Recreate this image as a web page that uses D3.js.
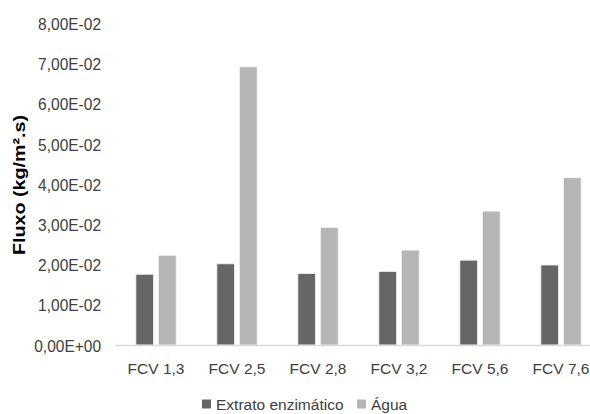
<!DOCTYPE html>
<html><head><meta charset="utf-8">
<script src="https://cdn.jsdelivr.net/npm/d3@7"></script>
<style>html,body{margin:0;padding:0;background:#fff;overflow:hidden}</style>
</head><body>
<svg id="c" width="590" height="414"></svg>
<script>
const categories = ["FCV 1,3","FCV 2,5","FCV 2,8","FCV 3,2","FCV 5,6","FCV 7,6"];
const seriesNames = ["Extrato enzimático","Água"];
const extrato = [0.0176,0.0202,0.0178,0.0183,0.0211,0.0199];
const agua = [0.0223,0.0692,0.0292,0.0236,0.0333,0.0416];
const yTicks = [0,0.01,0.02,0.03,0.04,0.05,0.06,0.07,0.08];
const colors = ["#666666","#b5b5b5"];

const svg = d3.select("#c");
const font = "'Liberation Sans', Arial, sans-serif";
const x = d3.scaleBand().domain(categories).range([115.5,601.5]).paddingInner(0).paddingOuter(0);
const y = d3.scaleLinear().domain([0,0.08]).range([345,23.4]);
const xs = d3.scaleBand().domain(seriesNames).range([0,x.bandwidth()]).paddingInner(0.22).paddingOuter(0.9);

// y tick labels
const fmt = v => v===0 ? "0,00E+00" : (v*100).toFixed(2).replace(".",",")+"E-02";
const yAxis = d3.axisLeft(y).tickValues(yTicks).tickFormat(fmt).tickSize(0).tickPadding(0);
const gy = svg.append("g").attr("transform","translate(101,0)").call(yAxis);
gy.select(".domain").remove();
gy.selectAll("text").attr("font-family",font).attr("font-size","15.5px").attr("fill","#404040")
  .attr("dy","0.36em").attr("transform","scale(1,1.08)");

// bars
const data = categories.map((c,i)=>({c, vals:[extrato[i],agua[i]]}));
const g = svg.append("g");
data.forEach(d=>{
  d.vals.forEach((v,j)=>{
    g.append("rect")
      .attr("x", x(d.c)+xs(seriesNames[j]))
      .attr("y", y(v))
      .attr("width", xs.bandwidth())
      .attr("height", y(0)-y(v))
      .attr("fill", colors[j])
      .attr("stroke","#f2f2f2").attr("stroke-width",0.8);
  });
});

// x axis
const xAxis = d3.axisBottom(x).tickSize(0).tickPadding(17.5);
const gx = svg.append("g").attr("transform","translate(0,345)").call(xAxis);
gx.select(".domain").attr("stroke","#d9d9d9").attr("stroke-width",1.5).attr("d","M115,0.5H590");
gx.selectAll("text").attr("font-family",font).attr("font-size","15.5px").attr("fill","#404040");

// y title
svg.append("text").attr("transform","translate(25,185) rotate(-90)")
  .attr("text-anchor","middle").attr("font-family",font).attr("font-weight","bold")
  .attr("font-size","17px").attr("fill","#000")
  .attr("textLength",140).attr("lengthAdjust","spacingAndGlyphs")
  .text("Fluxo (kg/m².s)");

// legend
const legendX = [202,357];
seriesNames.forEach((n,j)=>{
  svg.append("rect").attr("x",legendX[j]).attr("y",399.5).attr("width",9).attr("height",9).attr("fill",colors[j]);
  svg.append("text").attr("x",legendX[j]+14).attr("y",409.5).attr("font-family",font)
    .attr("font-size","15.5px").attr("fill","#404040").text(n);
});
</script>
</body></html>
